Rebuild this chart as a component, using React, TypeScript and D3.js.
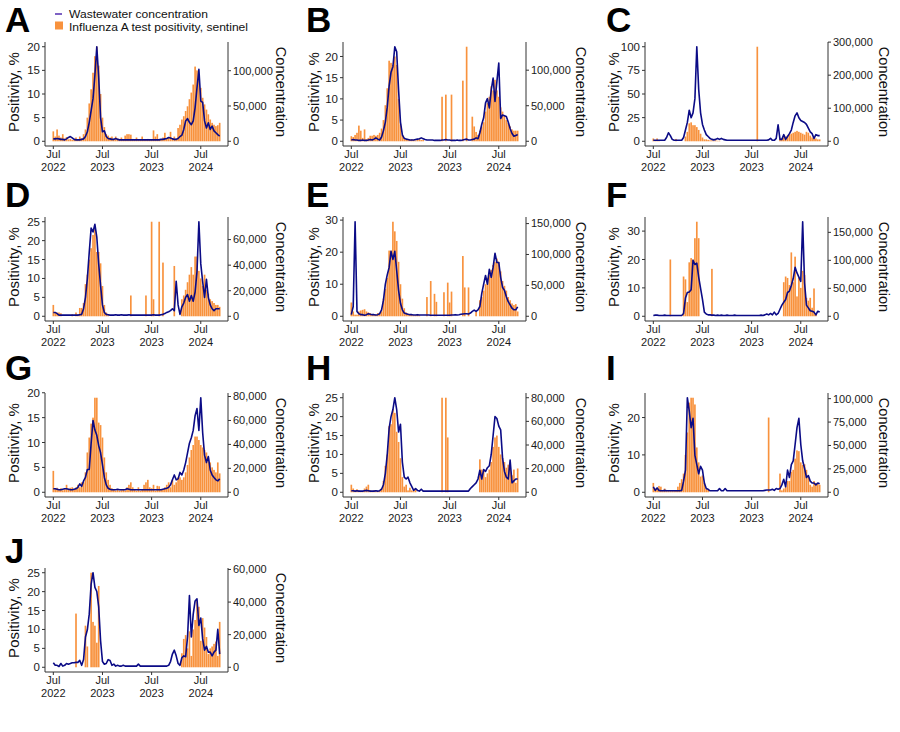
import React from "react";
import * as d3 from "d3";

// Weekly series, week 0 = first week shown (tick "Jul 2022")
// Positivity (%) per panel
const posA = [2.1,1.0,2.5,1.2,0.8,1.5,0.6,0.9,0.4,0.5,0.3,0.3,0.8,0.4,1.0,0.6,1.5,2.5,5.0,8.0,11.0,14.5,18.0,20.0,16.0,10.0,5.0,3.0,1.5,1.2,0.8,1.0,0.5,1.0,0.6,0.4,0.8,0.3,1.2,1.5,1.5,1.4,0.5,0.3,0.8,0.4,0.3,1.0,0.4,0.3,0.5,0.4,0.3,2.3,1.0,1.5,0.5,0.3,0.8,1.8,0.6,0.8,2.0,0.5,1.0,0.6,2.8,3.5,4.6,5.3,6.4,7.4,8.9,10.3,12.0,15.8,15.0,13.0,11.3,9.2,7.8,6.7,5.7,4.6,3.9,3.5,3.2,3.4,3.9];
const posB = [1.2,1.0,1.5,2.0,3.7,2.5,0.8,2.8,0.5,0.8,1.3,1.3,1.5,1.3,1.5,2.0,3.0,5.0,8.5,12.5,19.0,18.5,18.0,20.0,18.0,10.0,4.0,1.5,0.8,0.5,0.3,0.3,0.5,0.3,0.2,0.3,0.5,0.3,0.3,0,0,0,0,0,0,0,0,0,10.5,0,11.0,0,0,11.0,0,0,0,0,0,14.3,0,22.3,0,0,5.8,3.5,2.2,1.5,2.5,3.5,4.5,7.0,9.0,10.5,13.0,12.0,14.5,12.0,10.5,8.0,7.0,6.0,5.0,4.3,3.5,2.8,2.5,2.5,2.5];
const posC = [3,1,3,0.5,0,0,0,0,0,0,0,0,2.5,0,0,0,0,5,10,19,20,17,17,15,12,8,4,2,2,1.5,1,1,0.5,1,0.5,0.5,0,0,0,0,0,0,0,0,0,0,0,0,0,0,0,0,0,0,0,100,0,0,0,0,0,0,0,0,0,0,0,3,3,4,5,6,7,8,9,10,11,10,9,8,7,10,9,6,4,3,3,2,2];
const posD = [3,1,1,1,0.8,0,0,0,0,0,0.5,0,1,0.5,2.2,2.2,3.5,8.5,11,15,18,21.5,23,17,17,14,8,3,1,0.5,0,0,0,0,0,0,0,0,0,0,0,5.5,0,0,0,0,0,0,0,5.5,0,0,25,4.5,0,0,25,0,14.2,0,0,0,0,0,13.3,0,0,0,4.5,5.5,7,9,11,13,11,15.8,15.8,12,10,8,11,7,6,4.5,4,3.5,3,3,2.5];
const posE = [4.3,1.5,0.5,0.5,1.5,1.8,2.0,2.2,1.5,1.2,1.0,0.5,0.5,0.5,1.0,1.0,1.5,5.5,8.5,12,20.5,20.5,29.5,26.5,23.5,17,10,5.5,2.5,1.2,0.8,0.5,0.5,0.3,0.3,0.5,0.3,0,0,0,6,0,11,0,7,4.5,0,0,0,7.5,0,10.5,4.3,7.7,0,0,0,0,0,18.8,9,0,9,0,0,0,1.5,0,5,6,8,10,12,13,14.5,16,17,18,17,14,11,9.5,8,6,5,4,3.5,3.8,1.5];
const posF = [0,0,0,0,0,0,0,0,0,20,0,0,0,0,0,0,14,13,5,19,20.5,20,27.5,33.3,27.5,0,0,0,0,0,0,16.7,0,0,0,0,0,0,0,0,0,0,0,0,0,0,0,0,0,0,0,0,0,0,0,0,0,0,0,0,0,0,0,0,0,0,0,0,0,12,14,13.5,11,22.5,12,21,7,13.5,10,16,14.5,6.5,5.5,6.5,3,9.8,1,0,0];
const posG = [4.3,0.8,0.9,0.5,0.8,0.4,0.6,1.5,0.7,0.9,1.0,0.5,1.0,1.5,1.0,2.0,2,4,8,11,13.8,15,19,19,14,13.5,11,7,4,2.5,1.5,0.8,0.5,0.3,0.6,0.3,0.4,0.5,0.3,1.0,1.5,2.0,1.0,0.5,0.3,1.0,0.3,0.6,1.5,2.0,2.5,1.0,0.8,1.5,0.3,1.3,1.2,0.6,0.5,1.0,1.5,2.0,1.0,2.5,1.5,2.0,3,3,2.5,3,4,5.5,7,8.5,9.5,11.2,11.2,10.5,9.5,9,8.5,8,7,6,5,4.5,4,6,3.8];
const posH = [2,1.0,0.5,0.8,0.5,0.3,0.3,1.0,1.5,2.0,0.5,0.3,0.5,0.3,0.3,0.5,1.0,3,7,10,17.5,18,22,21,16,13.3,9,4,1.5,2,0.5,1.2,0.5,0.3,0.8,0,0,0,0,0,0,0,0,0,0,0,0,0,25,0,25,14.5,0,0,0,0,0,0,0,0,0,0,0,0,0,0,0,0,8.7,6,6,4,5,6,8,12,14.5,15,12,10,9,8,6.5,7.3,7,4.5,6,2.5,6.3];
const posI = [2.5,1.0,1.0,1.7,1.5,0.3,1.0,0.3,0.3,0.3,0.3,0.3,0.5,1.5,2.5,3.5,5,10,16,24,25.3,25.3,23.5,12,8,4.2,4.5,2.5,1.0,0.8,0,0,0,0,0,0,0,0,0,0,0,0,0,0,0,0,0,0,0,0,0,0,0,0,0,0,0,0,0,0,0,20,0,0,0,0,0,5,0.5,1,1.5,3,3,5.5,6,9,11.2,11,8,7.3,7.5,6,4,2,1.5,3,2.5,2.5,2];
const posJ = [0,0,0,0,0,0,0,0,0,0,0,0,14.2,0,0,0,0,11,5.5,0,25,12,11,6.5,21.5,0,0,0,0,0,0,0,0,0,0,0,0,0,0,0,0,0,0,0,0,0,0,0,0,0,0,0,0,0,0,0,0,0,0,0,0,0,0,0,0,0,0,0,3.7,7.5,8.5,5,9.5,3,10,12.5,17.5,16,7,13,10.5,8,3.5,5,5.5,6.2,6.8,3,12];

// Wastewater concentration per panel (thousands)
const concA = [3.4,3.4,4.0,3.4,2.7,2.7,2.0,3.4,5.4,6.7,4.7,2.7,2.0,2.0,2.0,2.7,3.4,6.7,13.4,26.9,43.6,60.4,94,134,90.6,33.6,13.4,14.8,6.7,4.0,3.4,2.7,2.7,4.0,2.7,2.0,2.0,2.0,2.0,2.0,2.0,2.0,2.0,2.0,2.0,2.0,2.0,2.0,2.0,2.0,2.0,2.0,2.0,2.0,2.0,2.0,2.0,2.7,2.7,3.4,4.0,5.4,4.7,3.4,2.7,2.7,4.0,6.7,8.7,16.8,28.9,32.2,26.9,23.5,28.9,47.7,75.9,102,57,55,28.9,18.8,26.2,16.8,21.5,14.8,12.1,9.4,7.4];
const concB = [1.8,2.4,1.8,1.8,1.2,1.2,1.8,1.2,1.2,1.8,2.4,1.8,3.0,4.8,3.0,1.8,6,15,27,48,78,97,105,133,126,72,27,9,4.2,3.0,2.4,1.8,1.8,1.8,2.4,3.0,3.6,4.8,3.6,2.4,1.8,1.8,1.8,1.8,1.2,1.2,1.2,1.2,1.8,1.8,2.4,1.8,1.8,1.2,1.2,1.2,1.8,1.2,1.2,1.8,2.4,3.0,1.8,1.8,2.4,3.0,4.8,3.6,12,24,33,54,60,47,72,89,56,84,110,32,37,36,35,27,18,11,7,8,9.6];
const concC = [2.9,2.9,2.9,2.9,2.9,2.9,2.9,11.4,25.7,17.2,5.7,2.9,2.9,2.9,2.9,2.9,11.4,34,57,94,71,86,129,286,157,86,51,34,20,14.3,8.6,5.7,4.3,5.7,8.6,5.7,8.6,5.7,4.3,2.9,2.9,2.9,2.9,2.9,2.9,2.9,2.9,2.9,2.9,2.9,2.9,2.9,2.9,2.9,2.9,2.9,2.9,2.9,2.9,2.9,2.9,4.3,8.6,2.9,2.9,8.6,50,5.7,5.7,20,5.7,14.3,23,34,57,77,86,71,63,60,57,51,40,28.6,23,8.6,20,17.2,17.2];
const concD = [3.0,3.0,2.1,0.9,0.9,0.9,0.9,0.9,0.9,0.9,0.9,0.9,0.9,0.9,1.2,1.5,5.9,14.8,29.5,50,69,66,72,62,41,24,8.9,3.0,1.5,1.2,0.9,0.9,0.9,1.2,0.9,0.9,1.2,0.9,0.9,0.9,1.2,0.9,0.9,0.9,0.9,0.9,0.9,0.9,0.9,0.9,0.9,0.9,0.9,1.2,0.9,0.9,0.9,1.2,1.5,2.1,3.0,3.6,4.4,5.9,4.4,27.4,8.9,1.5,7.4,10.3,14.8,17,11.8,16.2,11.8,19,35,74,41,27,14.8,29,14.8,8.9,5.9,4.4,5.9,5.9,5.9];
const concE = [2.6,15.8,153,7.9,4.2,2.6,2.6,1.6,2.6,4.2,3.2,2.6,2.6,2.1,2.6,4.2,10.5,26,52,67,79,105,92,105,74,42,21,10.5,5.2,4.2,3.2,2.6,2.6,2.1,2.1,2.6,2.1,2.1,2.1,2.1,2.1,2.1,1.6,1.6,1.6,1.6,1.6,1.6,1.6,1.6,1.6,1.6,1.6,2.1,2.1,2.6,2.1,2.6,3.2,3.7,4.2,4.2,3.7,5.2,7.9,10,7.9,10.5,15.8,37,52,66,52,76,63,79,102,87,87,63,47,42,31.5,23.6,18.4,13,10.5,10.5,15.2];
const concF = [1.5,2.0,2.0,1.5,1.5,1.5,2.0,1.5,1.5,1.5,1.5,1.5,1.5,1.5,1.5,1.5,5,32.5,42.5,43.5,47.5,100,92.5,95,70,50,30,7.5,4,2.5,2.5,2.0,2.0,1.5,2.0,1.5,2.0,1.5,1.5,2.0,1.5,1.5,1.5,2.0,1.5,1.5,1.5,1.5,1.5,1.5,1.5,1.5,1.5,1.5,1.5,1.5,1.5,2.0,1.5,2.5,4.0,2.5,5.0,2.5,7.5,2.5,5,12.5,20,25,30,42.5,45,55,67.5,87.5,77.5,70,62.5,169,60,20,15,10,9,7.5,2.5,9,7.5];
const concG = [2.9,2.9,2.5,2.1,2.1,2.5,2.9,2.9,2.5,2.1,2.1,2.5,2.9,4.1,7.0,5.0,9.5,12.4,19,19,41,60,52,47.6,39,33,23,12.4,6.2,3.3,2.5,2.1,2.1,2.1,2.5,2.1,2.1,2.1,2.1,2.9,2.5,2.1,2.1,2.1,2.1,2.1,2.1,2.1,2.1,2.1,2.1,2.1,2.1,2.1,2.1,2.1,2.1,2.1,2.5,2.9,3.3,4.1,6.2,10.4,14.5,10.4,11.2,16.6,14.5,18.6,24.8,33,41,45.5,51.7,64,70,51.7,79,49.7,31,24.8,29.8,18.6,14.5,12.4,10.4,9.5,11.2];
const concH = [1.3,1.3,1.0,1.3,1.0,1.0,1.0,1.3,1.6,1.3,1.0,1.0,1.0,1.3,1.0,1.3,2.6,6.4,16,32,54,64,70,80,70,51,57.6,25.6,12.8,11.2,12.8,8,4.8,1.6,3.2,1.6,1.0,2.6,1.0,1.0,1.0,1.0,1.0,1.0,1.0,1.0,1.0,1.0,1.0,1.0,1.0,1.0,1.0,1.0,1.0,1.0,1.0,1.0,1.0,1.0,1.0,1.0,1.0,3.2,4.8,6.4,8,11.2,18.6,11.2,19.2,17.6,20.8,22.4,32,48,64,62.4,56,52.8,28.8,17.6,12.8,11.2,27.2,8,9.6,11.2,11.2];
const concI = [5.9,2.0,4.7,2.0,1.6,1.6,2.0,1.6,1.6,1.6,1.6,1.6,1.6,1.6,1.6,2.0,11.9,23.7,101,87,69,79,39.5,29.6,19.8,27.7,23.7,9.9,4.0,3.2,1.6,1.6,1.6,1.6,1.6,4.0,1.6,1.6,4.0,1.6,1.6,1.6,1.6,1.6,1.6,1.6,1.6,1.6,1.6,1.6,1.6,1.6,1.6,1.6,1.6,1.6,1.6,1.6,1.6,2.0,2.4,2.4,2.4,3.2,2.0,4.0,3.2,4.0,7.9,13.8,5.9,23.7,15.8,29.6,33.6,51,69,79,51,33.6,25.7,15.8,17.8,11.9,9.9,9.9,7.9,9.9,9.1];
const concJ = [2.8,1.2,1.2,0.5,2.3,0.7,1.2,2.3,1.9,2.3,2.8,2.8,3.0,3.0,4.2,1.2,4.7,18.6,23,32.6,51,58,49,46.5,37,16.3,3.5,1.9,2.3,4.7,4.2,1.2,1.9,0.7,1.2,0.7,0.7,1.2,0.7,0.7,0.7,0.7,0.7,0.7,0.7,1.9,0.7,0.7,0.7,0.7,0.7,0.7,0.7,0.7,0.7,0.7,0.7,0.7,0.7,0.7,0.7,1.2,3.5,8.1,10.5,7.0,2.3,1.2,5.8,7.0,6.5,18.6,44,18.6,32.6,40.7,42,25.6,30.2,17.4,10.5,12.8,9.3,9.3,7.0,9.3,10.5,23.3,8.1];

const panelLetters = ["A", "B", "C", "D", "E", "F", "G", "H", "I", "J"];
const positivity = [posA, posB, posC, posD, posE, posF, posG, posH, posI, posJ];
const concentration = [concA, concB, concC, concD, concE, concF, concG, concH, concI, concJ];

const leftTicks = [
  [0, 5, 10, 15, 20], [0, 5, 10, 15, 20], [0, 25, 50, 75, 100],
  [0, 5, 10, 15, 20, 25], [0, 10, 20, 30], [0, 10, 20, 30],
  [0, 5, 10, 15, 20], [0, 5, 10, 15, 20, 25], [0, 10, 20],
  [0, 5, 10, 15, 20, 25],
];
// thousands
const rightTicks = [
  [0, 50, 100], [0, 50, 100], [0, 100, 200, 300],
  [0, 20, 40, 60], [0, 50, 100, 150], [0, 50, 100, 150],
  [0, 20, 40, 60, 80], [0, 20, 40, 60, 80], [0, 25, 50, 75, 100],
  [0, 20, 40, 60],
];

const xTickWeeks = [0, 26, 52, 78];
const xTickMonths = ["Jul", "Jul", "Jul", "Jul"];
const xTickYears = ["2022", "2023", "2023", "2024"];

const legendLabels = ["Wastewater concentration", "Influenza A test positivity, sentinel"];

const ORANGE = "#F8923D";
const NAVY = "#0B0B86";
const PURPLE = "#7E62C4";
const AXIS = "#333333";
const TXT = "#1a1a1a";
const FONT = "'Liberation Sans', Arial, sans-serif";

const colX0 = [0, 300, 600];
const colPlotLeft = [45, 343, 645];
const colRightTitle = [281.5, 581.5, 884];
const rowTop = [42, 217, 393, 568];
const rowLetterBase = [32, 207, 380, 563];
const PLOT_W = 183;
const PLOT_H = 104;

function Panel({ idx }: { idx: number }) {
  const col = idx % 3;
  const row = Math.floor(idx / 3);
  const pos = positivity[idx];
  const conc = concentration[idx];
  const n = pos.length;
  const xL = colPlotLeft[col];
  const xR = xL + PLOT_W;
  const yT = rowTop[row];
  const yB = yT + PLOT_H;
  const maxPos = d3.max(pos) as number;
  const maxConc = d3.max(conc) as number;
  const factor = maxConc / maxPos;
  const span = n - 1;
  const x = d3.scaleLinear().domain([-0.05 * span, span * 1.05]).range([xL, xR]);
  const y = d3.scaleLinear().domain([-0.05 * maxPos, 1.05 * maxPos]).range([yB, yT]);
  const step = x(1) - x(0);
  const bw = step * 0.88;
  const line = d3
    .line<number>()
    .x((_, i) => x(i))
    .y((d) => y(d / factor));

  return (
    <g>
      <text x={colX0[col] + (col === 0 ? 5 : 6)} y={rowLetterBase[row]} fontFamily={FONT} fontWeight="bold" fontSize={35} fill="#000">
        {panelLetters[idx]}
      </text>
      {pos.map((v, i) =>
        v > 0 ? (
          <rect key={i} x={x(i) - bw / 2} y={y(v)} width={bw} height={y(0) - y(v)} fill={ORANGE} />
        ) : null
      )}
      <path d={line(conc) || ""} fill="none" stroke={NAVY} strokeWidth={1.6} strokeLinejoin="round" />
      <line x1={xL} x2={xL} y1={yT} y2={yB} stroke={AXIS} strokeWidth={1} />
      <line x1={xR} x2={xR} y1={yT} y2={yB} stroke={AXIS} strokeWidth={1} />
      <line x1={xL} x2={xR} y1={yB} y2={yB} stroke={AXIS} strokeWidth={1} />
      {leftTicks[idx].map((t) => (
        <g key={"l" + t}>
          <line x1={xL - 3} x2={xL} y1={y(t)} y2={y(t)} stroke={AXIS} />
          <text x={xL - 5} y={y(t)} dy="0.35em" textAnchor="end" fontFamily={FONT} fontSize={11.5} fill={TXT}>
            {t}
          </text>
        </g>
      ))}
      {rightTicks[idx].map((t) => (
        <g key={"r" + t}>
          <line x1={xR} x2={xR + 3} y1={y(t / factor)} y2={y(t / factor)} stroke={AXIS} />
          <text x={xR + 5} y={y(t / factor)} dy="0.35em" textAnchor="start" fontFamily={FONT} fontSize={11} fill={TXT}>
            {d3.format(",")(t * 1000)}
          </text>
        </g>
      ))}
      {xTickWeeks.map((w, i) => (
        <g key={"x" + i}>
          <line x1={x(w)} x2={x(w)} y1={yB} y2={yB + 3} stroke={AXIS} />
          <text textAnchor="middle" fontFamily={FONT} fontSize={11} fill={TXT}>
            <tspan x={x(w)} y={yB + 12}>{xTickMonths[i]}</tspan>
            <tspan x={x(w)} y={yB + 24.6}>{xTickYears[i]}</tspan>
          </text>
        </g>
      ))}
      <text
        transform={`translate(${colX0[col] + 13.5},${yT + PLOT_H / 2 - 2}) rotate(-90)`}
        textAnchor="middle"
        dy="0.35em"
        fontFamily={FONT}
        fontSize={15}
        fill="#111"
      >
        Positivity, %
      </text>
      <text
        transform={`translate(${colRightTitle[col]},${yT + PLOT_H / 2 - 2}) rotate(90)`}
        textAnchor="middle"
        dy="0.35em"
        fontFamily={FONT}
        fontSize={14.5}
        fill="#111"
      >
        Concentration
      </text>
    </g>
  );
}

export default function App() {
  return (
    <svg
      width={900}
      height={732}
      viewBox="0 0 900 732"
      style={{ position: "absolute", left: 0, top: 0, background: "#fff" }}
    >
      <rect x={0} y={0} width={900} height={732} fill="#fff" />
      <line x1={55} x2={62} y1={14} y2={14} stroke={PURPLE} strokeWidth={2} />
      <rect x={55} y={21.5} width={8} height={8} fill={ORANGE} />
      <text fontFamily={FONT} fontSize={11.5} fill="#111">
        <tspan x={69} y={18} textLength={139} lengthAdjust="spacingAndGlyphs">{legendLabels[0]}</tspan>
        <tspan x={69} y={31} textLength={179} lengthAdjust="spacingAndGlyphs">{legendLabels[1]}</tspan>
      </text>
      {panelLetters.map((_, i) => (
        <Panel key={i} idx={i} />
      ))}
    </svg>
  );
}
